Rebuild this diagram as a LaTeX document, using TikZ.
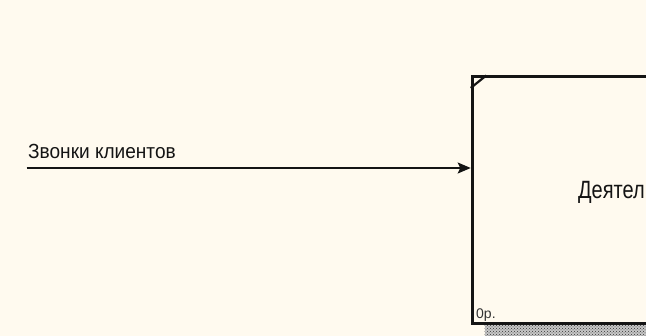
\documentclass[tikz,border=0pt]{standalone}
\usepackage{fontspec}
\setmainfont{Liberation Sans}
\newfontfamily\narrowsf[FakeStretch=0.8]{Liberation Sans}
\newfontfamily\labelsf[FakeStretch=0.93]{Liberation Sans}
\usetikzlibrary{arrows.meta,patterns}
\definecolor{paper}{RGB}{255,250,239}
\definecolor{ink}{RGB}{20,20,20}
\tikzset{
  actbox/.style={draw=ink,line width=2.8pt,fill=paper,anchor=north west,inner sep=0pt,
    minimum width=520pt,minimum height=246.5pt},
  actname/.style={font=\narrowsf\fontsize{25}{28}\selectfont,text=ink,inner sep=0pt,anchor=base west},
  arrlbl/.style={font=\labelsf\fontsize{20.5}{23}\selectfont,text=ink,inner sep=0pt,anchor=base west},
  cost/.style={font=\fontsize{14}{16}\selectfont,text=black!80,inner sep=0pt,anchor=base west},
  flow/.style={draw=ink,line width=1.5pt,-{Stealth[length=13pt,width=11pt,inset=2.5pt]}},
  shade/.style={fill=black!22,postaction={pattern=crosshatch dots,pattern color=black!80}},
}
\begin{document}
\begin{tikzpicture}[x=1pt,y=-1pt]
\fill[paper] (0,0) rectangle (646,336);
\useasboundingbox (0,0) rectangle (646,336);
\clip (0,0) rectangle (646,336);
\path[shade] (484.5,324.3) rectangle (1000,340);
\node[actbox] (act) at (470.7,75.5) {};
\draw[ink,line width=2.2pt] ([yshift=-12.5pt]act.north west) -- ([xshift=15.5pt]act.north west);
\node[actname] (actn) at (578,198.3) {Деятел};
\node[cost] (actc) at (476,319) {0р.};
\coordinate (src) at (26.7,168);
\draw[flow] (src) -- (src -| act.west);
\node[arrlbl] (calls) at (28,158.7) {Звонки клиентов};
\end{tikzpicture}
\end{document}
